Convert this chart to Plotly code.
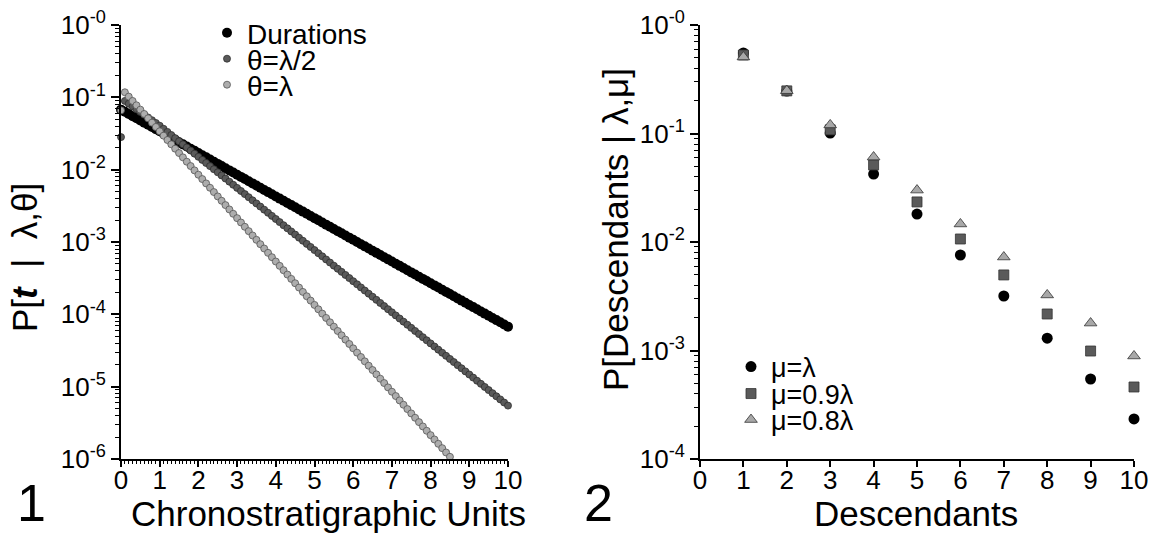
import plotly.graph_objects as go

# ---------------- data ----------------
# Panel 1: chronostratigraphic units (x) and log10 of P[t | lambda, theta]
t_units = [0.0, 0.1, 0.2, 0.3, 0.4, 0.5, 0.6, 0.7, 0.8, 0.9,
           1.0, 1.1, 1.2, 1.3, 1.4, 1.5, 1.6, 1.7, 1.8, 1.9,
           2.0, 2.1, 2.2, 2.3, 2.4, 2.5, 2.6, 2.7, 2.8, 2.9,
           3.0, 3.1, 3.2, 3.3, 3.4, 3.5, 3.6, 3.7, 3.8, 3.9,
           4.0, 4.1, 4.2, 4.3, 4.4, 4.5, 4.6, 4.7, 4.8, 4.9,
           5.0, 5.1, 5.2, 5.3, 5.4, 5.5, 5.6, 5.7, 5.8, 5.9,
           6.0, 6.1, 6.2, 6.3, 6.4, 6.5, 6.6, 6.7, 6.8, 6.9,
           7.0, 7.1, 7.2, 7.3, 7.4, 7.5, 7.6, 7.7, 7.8, 7.9,
           8.0, 8.1, 8.2, 8.3, 8.4, 8.5, 8.6, 8.7, 8.8, 8.9,
           9.0, 9.1, 9.2, 9.3, 9.4, 9.5, 9.6, 9.7, 9.8, 9.9,
           10.0]

durations_log10 = [-1.17, -1.20, -1.23, -1.26, -1.29, -1.32, -1.35, -1.38, -1.41, -1.44,
                   -1.47, -1.50, -1.53, -1.56, -1.59, -1.62, -1.65, -1.68, -1.71, -1.74,
                   -1.77, -1.80, -1.83, -1.86, -1.89, -1.92, -1.95, -1.98, -2.01, -2.04,
                   -2.07, -2.10, -2.13, -2.16, -2.19, -2.22, -2.25, -2.28, -2.31, -2.34,
                   -2.37, -2.40, -2.43, -2.46, -2.49, -2.52, -2.55, -2.58, -2.61, -2.64,
                   -2.67, -2.70, -2.73, -2.76, -2.79, -2.82, -2.85, -2.88, -2.91, -2.94,
                   -2.97, -3.00, -3.03, -3.06, -3.09, -3.12, -3.15, -3.18, -3.21, -3.24,
                   -3.27, -3.30, -3.33, -3.36, -3.39, -3.42, -3.45, -3.48, -3.51, -3.54,
                   -3.57, -3.60, -3.63, -3.66, -3.69, -3.72, -3.75, -3.78, -3.81, -3.84,
                   -3.87, -3.90, -3.93, -3.96, -3.99, -4.02, -4.05, -4.08, -4.11, -4.14,
                   -4.17]

theta_half_log10 = [-1.550, -1.050, -1.088, -1.126, -1.164, -1.202, -1.240, -1.278, -1.316, -1.354,
                    -1.392, -1.435, -1.478, -1.521, -1.564, -1.607, -1.650, -1.693, -1.736, -1.779,
                    -1.822, -1.865, -1.908, -1.951, -1.994, -2.037, -2.080, -2.123, -2.166, -2.209,
                    -2.252, -2.295, -2.338, -2.381, -2.424, -2.467, -2.510, -2.553, -2.596, -2.639,
                    -2.682, -2.725, -2.768, -2.811, -2.854, -2.897, -2.940, -2.983, -3.026, -3.069,
                    -3.112, -3.155, -3.198, -3.241, -3.284, -3.327, -3.370, -3.413, -3.456, -3.499,
                    -3.542, -3.585, -3.628, -3.671, -3.714, -3.757, -3.800, -3.843, -3.886, -3.929,
                    -3.972, -4.015, -4.058, -4.101, -4.144, -4.187, -4.230, -4.273, -4.316, -4.359,
                    -4.402, -4.445, -4.488, -4.531, -4.574, -4.617, -4.660, -4.703, -4.746, -4.789,
                    -4.832, -4.875, -4.918, -4.961, -5.004, -5.047, -5.090, -5.133, -5.176, -5.219,
                    -5.262]

theta_full_t = [0.0, 0.1, 0.2, 0.3, 0.4, 0.5, 0.6, 0.7, 0.8, 0.9,
                1.0, 1.1, 1.2, 1.3, 1.4, 1.5, 1.6, 1.7, 1.8, 1.9,
                2.0, 2.1, 2.2, 2.3, 2.4, 2.5, 2.6, 2.7, 2.8, 2.9,
                3.0, 3.1, 3.2, 3.3, 3.4, 3.5, 3.6, 3.7, 3.8, 3.9,
                4.0, 4.1, 4.2, 4.3, 4.4, 4.5, 4.6, 4.7, 4.8, 4.9,
                5.0, 5.1, 5.2, 5.3, 5.4, 5.5, 5.6, 5.7, 5.8, 5.9,
                6.0, 6.1, 6.2, 6.3, 6.4, 6.5, 6.6, 6.7, 6.8, 6.9,
                7.0, 7.1, 7.2, 7.3, 7.4, 7.5, 7.6, 7.7, 7.8, 7.9,
                8.0, 8.1, 8.2, 8.3, 8.4, 8.5]

theta_full_log10 = [-1.18, -0.93, -0.99, -1.05, -1.11, -1.17, -1.23, -1.29, -1.35, -1.41,
                    -1.47, -1.53, -1.59, -1.65, -1.71, -1.77, -1.83, -1.89, -1.95, -2.01,
                    -2.07, -2.13, -2.19, -2.25, -2.31, -2.37, -2.43, -2.49, -2.55, -2.61,
                    -2.67, -2.73, -2.79, -2.85, -2.91, -2.97, -3.03, -3.09, -3.15, -3.21,
                    -3.27, -3.33, -3.39, -3.45, -3.51, -3.57, -3.63, -3.69, -3.75, -3.81,
                    -3.87, -3.93, -3.99, -4.05, -4.11, -4.17, -4.23, -4.29, -4.35, -4.41,
                    -4.47, -4.53, -4.59, -4.65, -4.71, -4.77, -4.83, -4.89, -4.95, -5.01,
                    -5.07, -5.13, -5.19, -5.25, -5.31, -5.37, -5.43, -5.49, -5.55, -5.61,
                    -5.67, -5.73, -5.79, -5.85, -5.91, -5.97]

# Panel 2: descendants and P[Descendants | lambda, mu]
descendants = [1, 2, 3, 4, 5, 6, 7, 8, 9, 10]
p_mu_1 = [0.552, 0.246, 0.101, 0.0423, 0.0181, 0.00759, 0.00318, 0.00130, 0.000546, 0.000234]
p_mu_09 = [0.529, 0.247, 0.108, 0.0513, 0.0234, 0.01066, 0.00497, 0.00217, 0.000989, 0.000461]
p_mu_08 = [0.507, 0.248, 0.120, 0.0607, 0.0301, 0.01466, 0.00727, 0.00325, 0.00179, 0.000890]

# tick labels
x_ticks = [0, 1, 2, 3, 4, 5, 6, 7, 8, 9, 10]
x_ticktext = ["0", "1", "2", "3", "4", "5", "6", "7", "8", "9", "10"]
y1_tickvals = [1, 1e-1, 1e-2, 1e-3, 1e-4, 1e-5, 1e-6]
y1_ticktext = ["10<sup>-0</sup>", "10<sup>-1</sup>", "10<sup>-2</sup>", "10<sup>-3</sup>",
               "10<sup>-4</sup>", "10<sup>-5</sup>", "10<sup>-6</sup>"]
y2_tickvals = [1, 1e-1, 1e-2, 1e-3, 1e-4]
y2_ticktext = ["10<sup>-0</sup>", "10<sup>-1</sup>", "10<sup>-2</sup>", "10<sup>-3</sup>", "10<sup>-4</sup>"]

# ---------------- figure ----------------
FONT = "Liberation Sans"

fig = go.Figure()

fig.add_trace(go.Scatter(
    x=t_units, y=[10 ** v for v in durations_log10], mode="markers", name="Durations",
    marker=dict(size=10, color="black", line=dict(width=0)),
    xaxis="x", yaxis="y", cliponaxis=False, legend="legend"))
fig.add_trace(go.Scatter(
    x=t_units, y=[10 ** v for v in theta_half_log10], mode="markers", name="θ=λ/2",
    marker=dict(size=7, color="#5a5a5a", line=dict(width=0.8, color="#2e2e2e")),
    xaxis="x", yaxis="y", cliponaxis=False, legend="legend2"))
fig.add_trace(go.Scatter(
    x=theta_full_t, y=[10 ** v for v in theta_full_log10], mode="markers", name="θ=λ",
    marker=dict(size=7, color="#adadad", line=dict(width=0.8, color="#555555")),
    xaxis="x", yaxis="y", cliponaxis=False, legend="legend3"))

fig.add_trace(go.Scatter(
    x=descendants, y=p_mu_1, mode="markers", name="μ=λ",
    marker=dict(size=11, color="black", symbol="circle", line=dict(width=0)),
    xaxis="x2", yaxis="y2", cliponaxis=False, legend="legend4"))
fig.add_trace(go.Scatter(
    x=descendants, y=p_mu_09, mode="markers", name="μ=0.9λ",
    marker=dict(size=10, color="#5a5a5a", symbol="square", line=dict(width=0.8, color="#333333")),
    xaxis="x2", yaxis="y2", cliponaxis=False, legend="legend5"))
fig.add_trace(go.Scatter(
    x=descendants, y=p_mu_08, mode="markers", name="μ=0.8λ",
    marker=dict(size=11, color="#a8a8a8", symbol="triangle-up", line=dict(width=0.8, color="#333333")),
    xaxis="x2", yaxis="y2", cliponaxis=False, legend="legend6"))

y1_minor = [m * 10 ** e for e in range(-6, 0) for m in range(2, 10)]
y2_minor = [m * 10 ** e for e in range(-4, 0) for m in range(2, 10)]

axis_common = dict(showline=True, linecolor="black", linewidth=2, ticks="outside",
                   tickcolor="black", tickwidth=1.5, showgrid=False, zeroline=False,
                   automargin=False,
                   tickfont=dict(family=FONT, size=26, color="black"))

L, R, T, B = 121, 16, 25, 79
W, H = 1150, 538
pw = W - L - R
ph = H - T - B


def px_x(p):
    return (p - L) / pw


def px_y(p):
    return (H - B - p) / ph


title_font = dict(family=FONT, size=35, color="black")

layout = dict(
    width=W, height=H,
    margin=dict(l=L, r=R, t=T, b=B, autoexpand=False),
    paper_bgcolor="white", plot_bgcolor="white",
    font=dict(family=FONT, color="black"),
    showlegend=True,
    xaxis=dict(domain=[0, px_x(508)], range=[0, 10], anchor="y",
               tickmode="array", tickvals=x_ticks, ticktext=x_ticktext, ticklen=6,
               ticklabelstandoff=-9,
               minor=dict(ticks="outside", dtick=0.1, ticklen=3, tickcolor="black", tickwidth=1),
               **axis_common),
    yaxis=dict(domain=[0, 1], type="log", range=[-6, 0], anchor="x",
               tickmode="array", tickvals=y1_tickvals, ticktext=y1_ticktext, ticklen=8,
               minor=dict(ticks="outside", tickmode="array", tickvals=y1_minor, ticklen=4,
                          tickcolor="black", tickwidth=1),
               **axis_common),
    xaxis2=dict(domain=[px_x(700), 1], range=[0, 10], anchor="y2",
                tickmode="array", tickvals=x_ticks, ticktext=x_ticktext, ticklen=6,
                ticklabelstandoff=-9,
                **axis_common),
    yaxis2=dict(domain=[0, 1], type="log", range=[-4, 0], anchor="x2",
                tickmode="array", tickvals=y2_tickvals, ticktext=y2_ticktext, ticklen=8,
                minor=dict(ticks="outside", tickmode="array", tickvals=y2_minor, ticklen=4,
                           tickcolor="black", tickwidth=1),
                **axis_common),
    annotations=[
        dict(text="1", xref="paper", yref="paper", x=px_x(31), y=px_y(503), showarrow=False,
             xanchor="center", yanchor="middle", font=dict(family=FONT, size=52, color="black")),
        dict(text="2", xref="paper", yref="paper", x=px_x(598), y=px_y(503), showarrow=False,
             xanchor="center", yanchor="middle", font=dict(family=FONT, size=52, color="black")),
        dict(text="Chronostratigraphic Units", xref="paper", yref="paper", x=px_x(328), y=px_y(513),
             showarrow=False, xanchor="center", yanchor="middle", font=title_font),
        dict(text="Descendants", xref="paper", yref="paper", x=px_x(916), y=px_y(513),
             showarrow=False, xanchor="center", yanchor="middle", font=title_font),
        dict(text="P[<b><i>t</i></b>\u00a0\u00a0|\u00a0\u00a0λ,θ]", xref="paper", yref="paper",
             x=px_x(24), y=px_y(258), textangle=-90,
             showarrow=False, xanchor="center", yanchor="middle", font=title_font),
        dict(text="P[Descendants | λ,μ]", xref="paper", yref="paper", x=px_x(615), y=px_y(230),
             textangle=-90, showarrow=False, xanchor="center", yanchor="middle",
             font=dict(family=FONT, size=35, color="black")),
    ],
)

legend_rows = {
    "legend": (207, 33, 28), "legend2": (207, 59, 28), "legend3": (207, 85, 28),
    "legend4": (731, 367, 27), "legend5": (731, 394, 27), "legend6": (731, 420, 27),
}
for key, (lx, ly, fs) in legend_rows.items():
    layout[key] = dict(x=px_x(lx), y=px_y(ly), xanchor="left", yanchor="middle",
                       bgcolor="rgba(0,0,0,0)", borderwidth=0,
                       font=dict(family=FONT, size=fs, color="black"),
                       itemwidth=30, tracegroupgap=0)

fig.update_layout(**layout)
fig.write_html("out.html", config={"displayModeBar": False},
               post_script="document.body.style.margin='0px';")
